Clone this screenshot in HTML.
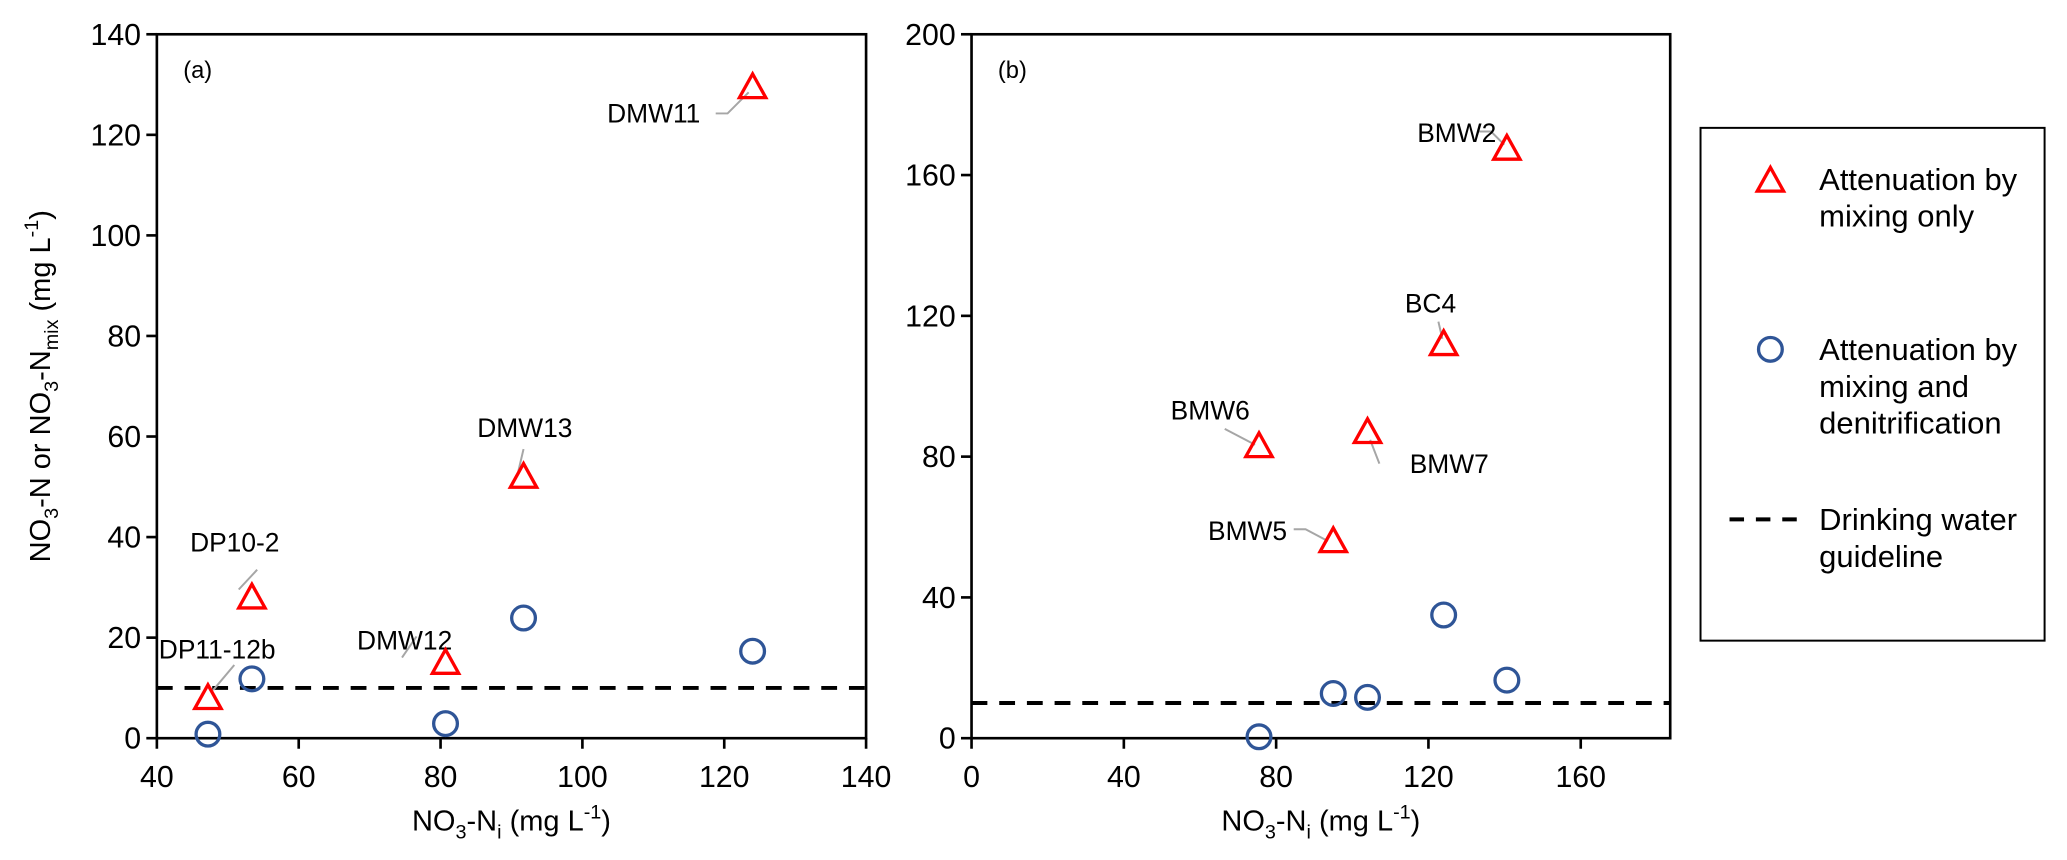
<!DOCTYPE html>
<html><head><meta charset="utf-8"><style>
body{margin:0;background:#fff;}
svg{display:block;font-family:"Liberation Sans",Arial,sans-serif;}
</style></head><body>
<svg id="chart" width="2067" height="860" viewBox="0 0 1568 652.4" preserveAspectRatio="none" xmlns="http://www.w3.org/2000/svg"></svg>
<script>
// Panel (a) data
const aTriX = [47.2, 53.4, 80.7, 91.7, 124];
const aTriY = [8, 28, 15, 52, 129.5];
const aTriNames = ["DP11-12b", "DP10-2", "DMW12", "DMW13", "DMW11"];
const aCirX = [47.2, 53.4, 80.7, 91.7, 124];
const aCirY = [0.8, 11.8, 2.9, 23.9, 17.3];
const aXTicks = [40, 60, 80, 100, 120, 140];
const aYTicks = [0, 20, 40, 60, 80, 100, 120, 140];
// Panel (b) data
const bTriX = [140.6, 124, 75.5, 104, 95];
const bTriY = [167.5, 112, 83, 87, 56];
const bTriNames = ["BMW2", "BC4", "BMW6", "BMW7", "BMW5"];
const bCirX = [75.5, 95, 104, 124, 140.6];
const bCirY = [0.4, 12.7, 11.6, 35, 16.5];
const bXTicks = [0, 40, 80, 120, 160];
const bYTicks = [0, 40, 80, 120, 160, 200];
const guideline = [10];

const NS = "http://www.w3.org/2000/svg";
const svg = document.getElementById("chart");
function mk(tag, attrs, parent) {
  const e = document.createElementNS(NS, tag);
  for (const k in attrs) e.setAttribute(k, attrs[k]);
  (parent || svg).appendChild(e);
  return e;
}
function txt(x, y, s, size, anchor, parent) {
  const t = mk("text", {x: x, y: y, "font-size": size, "text-anchor": anchor || "middle", fill: "#000"}, parent);
  t.textContent = s;
  return t;
}
function tri(g, cx, cy) {
  return mk("polygon", {points: (cx) + "," + (cy - 10) + " " + (cx - 10) + "," + (cy + 8) + " " + (cx + 10) + "," + (cy + 8), fill: "none", stroke: "#ff0000", "stroke-width": 2.5}, g);
}
function circ(g, cx, cy) {
  return mk("circle", {cx: cx, cy: cy, r: 9, fill: "none", stroke: "#2f5597", "stroke-width": 2.5}, g);
}

function panel(cfg) {
  const g = mk("g", {});
  
  
  const X = v => cfg.x0 + (v - cfg.xmin) / (cfg.xmax - cfg.xmin) * (cfg.x1 - cfg.x0);
  const Y = v => cfg.y1 - (v - cfg.ymin) / (cfg.ymax - cfg.ymin) * (cfg.y1 - cfg.y0);
  const frame = mk("rect", {x: cfg.x0, y: cfg.y0, width: cfg.x1 - cfg.x0, height: cfg.y1 - cfg.y0, fill: "none", stroke: "#000", "stroke-width": 2}, g);
  
  
  cfg.xt.forEach(v => {
    mk("line", {x1: X(v), x2: X(v), y1: cfg.y1, y2: cfg.y1 + 8, stroke: "#000", "stroke-width": 2}, g);
    const t = txt(X(v), cfg.y1 + 37, String(v), 23, "middle", g);
    
    
  });
  cfg.yt.forEach(v => {
    mk("line", {x1: cfg.x0 - 8, x2: cfg.x0, y1: Y(v), y2: Y(v), stroke: "#000", "stroke-width": 2}, g);
    const t = txt(cfg.x0 - 12, Y(v) + 8, String(v), 23, "end", g);
    
    
  });
  const gl = mk("line", {x1: cfg.x0, x2: cfg.x1, y1: Y(guideline[0]), y2: Y(guideline[0]), stroke: "#000", "stroke-width": 3, "stroke-dasharray": "12 9"}, g);
  
  
  cfg.triX.forEach((v, i) => {
    const px = X(v), py = Y(cfg.triY[i]);
    const L = cfg.lab[i];
    const pl = mk("polyline", {points: L.lead.map(p => (px + p[0]) + "," + (py + p[1])).join(" "), fill: "none", stroke: "#a6a6a6", "stroke-width": 1.5}, g);
    
    
    const t = txt(px + L.dx, py + L.dy, cfg.triN[i], 20, "middle", g);
    
    
  });
  cfg.cirX.forEach((v, i) => {
    const c = circ(g, X(v), Y(cfg.cirY[i]));
    
    
  });
  cfg.triX.forEach((v, i) => {
    const p = tri(g, X(v), Y(cfg.triY[i]));
    
    
  });
  const pt = txt(cfg.x0 + 20, cfg.y0 + 33, cfg.tag, 18, "start", g);
  
  
  const xt = mk("text", {x: (cfg.x0 + cfg.x1) / 2, y: 630, "font-size": 22, "text-anchor": "middle"}, g);
  xt.innerHTML = 'NO<tspan font-size="15" dy="6">3</tspan><tspan dy="-6">-N</tspan><tspan font-size="15" dy="6">i</tspan><tspan dy="-6"> (mg L</tspan><tspan font-size="15" dy="-9">-1</tspan><tspan dy="9">)</tspan>';
  
  
}

panel({name: "panel-a", tag: "(a)", x0: 119, x1: 657, y0: 26, y1: 560, xmin: 40, xmax: 140, ymin: 0, ymax: 140,
  xt: aXTicks, yt: aYTicks, triX: aTriX, triY: aTriY, triN: aTriNames, cirX: aCirX, cirY: aCirY,
  lab: [
    {dx: 7, dy: -30, lead: [[20, -25], [4, -6]]},
    {dx: -13, dy: -35, lead: [[4, -21], [-10, -6]]},
    {dx: -31, dy: -10, lead: [[-33, -4], [-22, -20]]},
    {dx: 1, dy: -30, lead: [[0, -21], [-4, -4]]},
    {dx: -75, dy: 27, lead: [[-28, 20], [-19, 20], [-3, 4]]}
  ]});
panel({name: "panel-b", tag: "(b)", x0: 737, x1: 1267, y0: 26, y1: 560, xmin: 0, xmax: 183.5, ymin: 0, ymax: 200,
  xt: bXTicks, yt: bYTicks, triX: bTriX, triY: bTriY, triN: bTriNames, cirX: bCirX, cirY: bCirY,
  lab: [
    {dx: -38, dy: -5, lead: [[-21, -13], [-12, -13], [-2, -3]]},
    {dx: -10, dy: -24, lead: [[-4, -17], [-1, -4]]},
    {dx: -37, dy: -20, lead: [[-26, -13], [-3, -1]]},
    {dx: 62, dy: 31, lead: [[9, 24], [2, 6]]},
    {dx: -65, dy: -1, lead: [[-30, -9], [-21, -9], [-4, 0]]}
  ]});

const yt = mk("text", {x: 0, y: 0, "font-size": 22, "text-anchor": "middle", transform: "translate(38,293) rotate(-90)"});
yt.innerHTML = 'NO<tspan font-size="15" dy="6">3</tspan><tspan dy="-6">-N  or NO</tspan><tspan font-size="15" dy="6">3</tspan><tspan dy="-6">-N</tspan><tspan font-size="15" dy="6">mix</tspan><tspan dy="-6"> (mg L</tspan><tspan font-size="15" dy="-9">-1</tspan><tspan dy="9">)</tspan>';



// Legend
const lg = mk("g", {});


mk("rect", {x: 1290, y: 97, width: 261, height: 389, fill: "none", stroke: "#000", "stroke-width": 1.5}, lg);
const le1 = tri(lg, 1343, 137);


const le2 = circ(lg, 1343, 265);


const le3 = mk("line", {x1: 1312, x2: 1366, y1: 394, y2: 394, stroke: "#000", "stroke-width": 3, "stroke-dasharray": "11 9"}, lg);


[["Attenuation by", 144], ["mixing only", 172], ["Attenuation by", 273], ["mixing and", 301], ["denitrification", 329], ["Drinking water", 402], ["guideline", 430]].forEach(r => {
  const t = txt(1380, r[1], r[0], 23.5, "start", lg);
  
  
});
</script>
</body></html>
